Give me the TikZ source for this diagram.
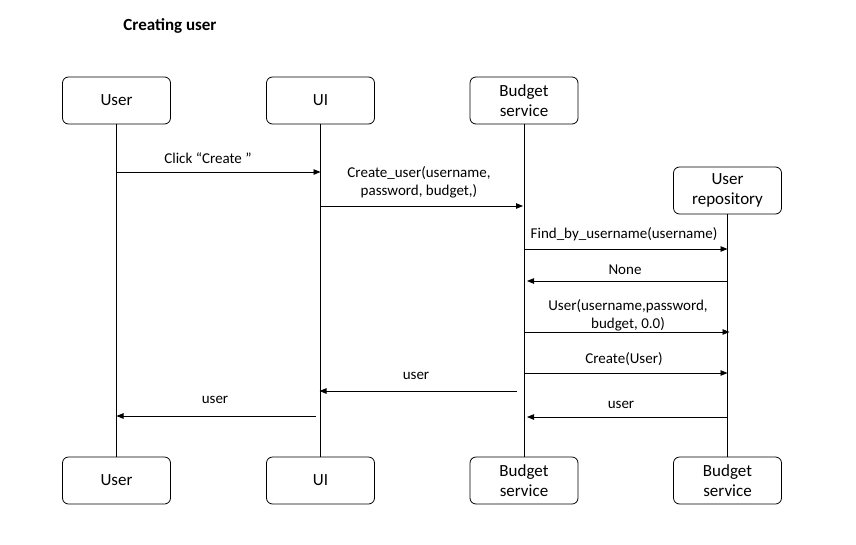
\documentclass[tikz,border=0pt]{standalone}
\usepackage{fontspec}
\setmainfont{Carlito}
\usetikzlibrary{arrows.meta}
\begin{document}
\begin{tikzpicture}[x=1pt,y=-1pt,
  actor/.style={draw, line width=0.8pt, rounded corners=6pt, minimum width=108pt, minimum height=47pt, inner sep=2pt, align=center, font=\fontsize{17}{20.5}\selectfont},
  life/.style={line width=0.8pt},
  msg/.style={line width=0.8pt, -{Triangle[length=7pt,width=5.5pt]}},
  lbl/.style={font=\fontsize{15}{18}\selectfont, align=center, inner sep=0pt}]
\path[fill=white] (0,0) rectangle (856,544);
\node[font=\bfseries\fontsize{17}{20}\selectfont, inner sep=0pt] (title) at (170,26) {Creating user};
% top actors
\node[actor] (user) at (116.5,100.5) {User};
\node[actor] (ui) at (320.5,100.5) {UI};
\node[actor] (budget) at (524,100.5) {Budget\\service};
\node[actor] (repo) at (727.5,190.5) {User\\repository};
% bottom actors
\node[actor] (userb) at (116.5,480.5) {User};
\node[actor] (uib) at (320.5,480.5) {UI};
\node[actor] (budgetb) at (524,480.5) {Budget\\service};
\node[actor] (repob) at (727.5,480.5) {Budget\\service};
% lifelines
\draw[life] (user.south) -- (userb.north);
\draw[life] (ui.south) -- (uib.north);
\draw[life] (budget.south) -- (budgetb.north);
\draw[life] (repo.south) -- (repob.north);
% messages
\draw[msg] (user |- 0,172) -- (ui |- 0,172);
\node[lbl] (m1) at (208,158) {Click “Create ”};
\draw[msg, shorten >=1pt] (ui |- 0,206) -- (budget |- 0,206);
\node[lbl] (m2) at (419,182) {Create\_user(username,\\password, budget,)};
\draw[msg] (budget |- 0,249) -- (repo |- 0,249);
\node[lbl] (m3) at (624,234) {Find\_by\_username(username)};
\draw[msg, shorten >=3pt] (repo |- 0,281) -- (budget |- 0,281);
\node[lbl] (m4) at (625,270) {None};
\draw[msg, shorten >=-2pt] (budget |- 0,332) -- (repo |- 0,332);
\node[lbl] (m5) at (628,315) {User(username,password,\\budget, 0.0)};
\draw[msg] (budget |- 0,373) -- (repo |- 0,373);
\node[lbl] (m6) at (624,359) {Create(User)};
\draw[msg, shorten <=7pt, shorten >=-1pt] (budget |- 0,391) -- (ui |- 0,391);
\node[lbl] (m7) at (416,376) {user};
\draw[msg, shorten >=3pt] (repo |- 0,417) -- (budget |- 0,417);
\node[lbl] (m8) at (621,405) {user};
\draw[msg, shorten <=5pt] (ui |- 0,416) -- (user |- 0,416);
\node[lbl] (m9) at (215,400) {user};
\end{tikzpicture}
\end{document}
